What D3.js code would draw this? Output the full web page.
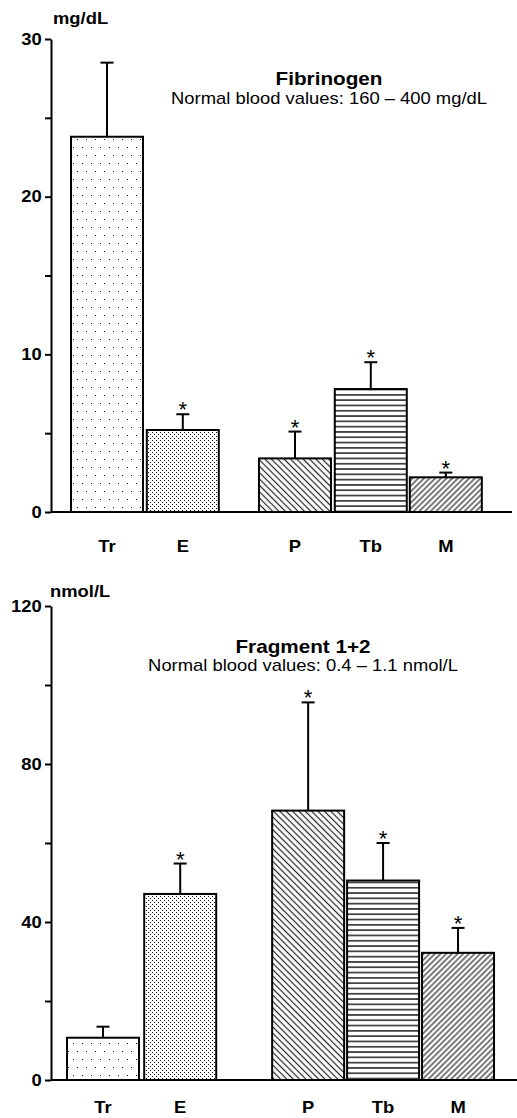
<!DOCTYPE html>
<html>
<head>
<meta charset="utf-8">
<script src="https://cdn.jsdelivr.net/npm/d3@7"></script>
<style>
  body { margin: 0; background: #fff; }
  svg { display: block; font-family: "Liberation Sans", Arial, Helvetica, sans-serif; }
</style>
</head>
<body>
<script>
// values (mean and upper SD)
var categories = ["Tr", "E", "P", "Tb", "M"];
var fibMean = [23.8, 5.2, 3.4, 7.8, 2.2];
var fibSD = [4.7, 1.0, 1.7, 1.7, 0.3];
var f12Mean = [10.7, 47.1, 68.2, 50.5, 32.2];
var f12SD = [2.8, 7.7, 27.4, 9.5, 6.3];
var significant = [false, true, true, true, true];
var fibTicks = [0, 10, 20, 30];
var fibMinor = [5, 15, 25];
var f12Ticks = [0, 40, 80, 120];
var f12Minor = [20, 60, 100];

var w = 517, h = 1118;
var sx = 1.15;   // the source picture is a bit stretched sideways
var barW = 72;
var fills = ["dotsSparse", "dotsDense", "hatchBack", "hlines", "hatchFwd"];

var svg = d3.select("body").append("svg")
  .attr("width", w)
  .attr("height", h);

// fill patterns
var defs = svg.append("defs");

var p = defs.append("pattern").attr("id", "dotsSparse")
  .attr("patternUnits", "userSpaceOnUse").attr("width", 9).attr("height", 16);
p.append("rect").attr("width", 9).attr("height", 16).attr("fill", "#fff");
p.append("rect").attr("x", 1).attr("y", 3).attr("width", 1).attr("height", 1).attr("fill", "#111");
p.append("rect").attr("x", 5).attr("y", 11).attr("width", 1).attr("height", 1).attr("fill", "#111");

p = defs.append("pattern").attr("id", "dotsDense")
  .attr("patternUnits", "userSpaceOnUse").attr("width", 4).attr("height", 4);
p.append("rect").attr("width", 4).attr("height", 4).attr("fill", "#fff");
p.append("rect").attr("x", 0).attr("y", 0).attr("width", 1).attr("height", 1).attr("fill", "#111");
p.append("rect").attr("x", 2).attr("y", 2).attr("width", 1).attr("height", 1).attr("fill", "#111");

function hatch(id, angle, gap) {
  var pt = defs.append("pattern").attr("id", id)
    .attr("patternUnits", "userSpaceOnUse")
    .attr("width", gap).attr("height", 10)
    .attr("patternTransform", "rotate(" + angle + ")");
  pt.append("rect").attr("width", gap).attr("height", 10).attr("fill", "#fff");
  pt.append("line").attr("x1", gap / 2).attr("x2", gap / 2).attr("y1", 0).attr("y2", 10)
    .attr("stroke", "#222").attr("stroke-width", 1.2);
}
hatch("hatchBack", -45, 4.5);
hatch("hatchFwd", 45, 4);

p = defs.append("pattern").attr("id", "hlines")
  .attr("patternUnits", "userSpaceOnUse").attr("width", 10).attr("height", 5.3);
p.append("rect").attr("width", 10).attr("height", 5.3).attr("fill", "#fff");
p.append("line").attr("x1", 0).attr("x2", 10).attr("y1", 2.65).attr("y2", 2.65)
  .attr("stroke", "#111").attr("stroke-width", 1.4);

function txt(g, x, y, s, size, weight, anchor) {
  return g.append("text")
    .attr("transform", "translate(" + x + "," + y + ") scale(" + sx + ",1)")
    .attr("text-anchor", anchor || "start")
    .attr("font-size", size)
    .attr("font-weight", weight || "normal")
    .attr("fill", "#000")
    .text(s);
}

var panels = [
  { mean: fibMean, sd: fibSD, ticks: fibTicks, minor: fibMinor,
    top: 39, bottom: 512, axisX: 51, axisEnd: 512,
    x0: 71, step: 75.8, slots: [0, 1, 2.48, 3.48, 4.47],
    unit: "mg/dL", unitX: 53, unitY: 24,
    title: "Fibrinogen", sub: "Normal blood values: 160 \u2013 400 mg/dL",
    titleX: 329, titleY: 85, subY: 104 },
  { mean: f12Mean, sd: f12SD, ticks: f12Ticks, minor: f12Minor,
    top: 606, bottom: 1080, axisX: 51, axisEnd: 517,
    x0: 67, step: 75.7, slots: [0, 1.02, 2.71, 3.7, 4.69],
    unit: "nmol/L", unitX: 50, unitY: 597,
    title: "Fragment 1+2", sub: "Normal blood values: 0.4 \u2013 1.1 nmol/L",
    titleX: 303, titleY: 653, subY: 671 }
];

panels.forEach(function(pn) {
  var g = svg.append("g");

  var y = d3.scaleLinear()
    .domain([0, d3.max(pn.ticks)])
    .range([pn.bottom, pn.top]);
  var x = d3.scaleLinear()
    .domain([0, 1])
    .range([pn.x0, pn.x0 + pn.step]);

  var rows = categories.map(function(c, i) {
    return { cat: c, mean: pn.mean[i], sd: pn.sd[i], sig: significant[i], fill: fills[i], slot: pn.slots[i] };
  });

  // baseline
  g.append("line")
    .attr("x1", pn.axisX).attr("x2", pn.axisEnd)
    .attr("y1", y(0)).attr("y2", y(0))
    .attr("stroke", "#000").attr("stroke-width", 2);

  // y axis, major + minor ticks
  var ax = g.append("g")
    .attr("transform", "translate(" + pn.axisX + ",0)")
    .call(d3.axisLeft(y).tickValues(pn.ticks).tickSize(6).tickSizeOuter(0).tickPadding(2));
  ax.select(".domain").attr("stroke-width", 2);
  ax.selectAll(".tick line").attr("stroke-width", 2);
  ax.selectAll(".tick text")
    .attr("transform", "scale(" + sx + ",1)")
    .attr("font-size", 16)
    .attr("font-weight", "bold")
    .attr("font-family", "'Liberation Sans', Arial, Helvetica, sans-serif")
    .style("font-size", "16px")
    .attr("fill", "#000");

  var mx = g.append("g")
    .attr("transform", "translate(" + pn.axisX + ",0)")
    .call(d3.axisLeft(y).tickValues(pn.minor).tickSize(6).tickFormat(""));
  mx.select(".domain").remove();
  mx.selectAll(".tick line").attr("stroke-width", 2);

  // error bars
  var eb = g.selectAll(".err").data(rows).enter().append("g").attr("class", "err");
  eb.append("line")
    .attr("x1", function(d) { return x(d.slot) + barW / 2; })
    .attr("x2", function(d) { return x(d.slot) + barW / 2; })
    .attr("y1", function(d) { return y(d.mean); })
    .attr("y2", function(d) { return y(d.mean + d.sd); })
    .attr("stroke", "#000").attr("stroke-width", 2);
  eb.append("line")
    .attr("x1", function(d) { return x(d.slot) + barW / 2 - 6.5; })
    .attr("x2", function(d) { return x(d.slot) + barW / 2 + 6.5; })
    .attr("y1", function(d) { return y(d.mean + d.sd); })
    .attr("y2", function(d) { return y(d.mean + d.sd); })
    .attr("stroke", "#000").attr("stroke-width", 2);

  // bars
  g.selectAll(".bar").data(rows).enter().append("rect")
    .attr("class", "bar")
    .attr("x", function(d) { return x(d.slot); })
    .attr("y", function(d) { return y(d.mean); })
    .attr("width", barW)
    .attr("height", function(d) { return y(0) - y(d.mean); })
    .attr("fill", function(d) { return "url(#" + d.fill + ")"; })
    .attr("stroke", "#000")
    .attr("stroke-width", 2);

  // significance stars
  rows.forEach(function(d) {
    if (d.sig) {
      g.append("text")
        .attr("x", x(d.slot) + barW / 2)
        .attr("y", y(d.mean + d.sd) + 3)
        .attr("text-anchor", "middle")
        .attr("font-size", 22)
        .text("*");
    }
  });

  // category labels (kept inside the picture at the bottom)
  rows.forEach(function(d) {
    txt(g, x(d.slot) + barW / 2, Math.min(y(0) + 40, h - 5), d.cat, 16, "bold", "middle");
  });

  // unit, title, subtitle
  txt(g, pn.unitX, pn.unitY, pn.unit, 16, "bold");
  txt(g, pn.titleX, pn.titleY, pn.title, 18, "bold", "middle");
  txt(g, pn.titleX, pn.subY, pn.sub, 16, "normal", "middle");
});
</script>
</body>
</html>
